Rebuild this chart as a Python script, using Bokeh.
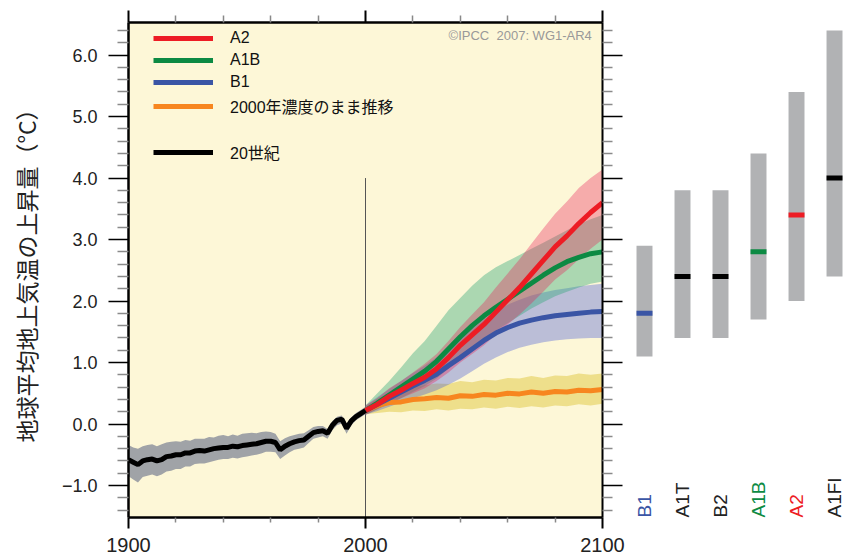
import math
from bokeh.plotting import figure
from bokeh.layouts import row
from bokeh.models import (Range1d, FixedTicker, LinearAxis, Legend, LegendItem, Label)
from bokeh.core.properties import value
from bokeh.embed import file_html
from bokeh.resources import INLINE

# ---------------- data ----------------
years_20c = [1900, 1902, 1904, 1906, 1908, 1910, 1912, 1914, 1916, 1918, 1920, 1922, 1924, 1926,
             1928, 1930, 1932, 1934, 1936, 1938, 1940, 1942, 1944, 1946, 1948, 1950, 1952, 1954,
             1956, 1958, 1960, 1962, 1964, 1966, 1968, 1970, 1972, 1974, 1976, 1978, 1980, 1982,
             1984, 1986, 1988, 1990, 1992, 1994, 1996, 1998, 2000]
mean_20c = [-0.58, -0.62, -0.66, -0.60, -0.58, -0.57, -0.60, -0.58, -0.53, -0.52, -0.50, -0.50, -0.47, -0.47,
            -0.44, -0.43, -0.44, -0.42, -0.40, -0.39, -0.38, -0.38, -0.36, -0.37, -0.35, -0.34, -0.33, -0.32,
            -0.30, -0.28, -0.28, -0.30, -0.42, -0.36, -0.32, -0.29, -0.27, -0.26, -0.20, -0.14, -0.12, -0.11,
            -0.15, -0.02, 0.06, 0.08, -0.07, 0.05, 0.12, 0.17, 0.22]
upper_20c = [-0.34, -0.38, -0.40, -0.36, -0.34, -0.33, -0.36, -0.33, -0.30, -0.29, -0.28, -0.29, -0.26, -0.27,
             -0.24, -0.24, -0.24, -0.21, -0.22, -0.19, -0.18, -0.20, -0.17, -0.19, -0.16, -0.15, -0.14, -0.15,
             -0.13, -0.12, -0.13, -0.16, -0.28, -0.23, -0.20, -0.18, -0.16, -0.15, -0.10, -0.05, -0.03, -0.03,
             -0.08, 0.05, 0.12, 0.14, 0.01, 0.11, 0.18, 0.23, 0.28]
lower_20c = [-0.85, -0.90, -0.95, -0.86, -0.84, -0.82, -0.85, -0.82, -0.77, -0.76, -0.73, -0.73, -0.69, -0.69,
             -0.65, -0.64, -0.64, -0.62, -0.60, -0.58, -0.57, -0.57, -0.55, -0.56, -0.54, -0.53, -0.51, -0.50,
             -0.48, -0.45, -0.45, -0.46, -0.57, -0.51, -0.46, -0.42, -0.40, -0.38, -0.31, -0.24, -0.22, -0.20,
             -0.24, -0.10, -0.02, 0.01, -0.16, -0.02, 0.06, 0.11, 0.16]

years_proj = [2000, 2005, 2010, 2015, 2020, 2025, 2030, 2035, 2040, 2045, 2050,
              2055, 2060, 2065, 2070, 2075, 2080, 2085, 2090, 2095, 2100]

a2_mean = [0.22, 0.32, 0.45, 0.55, 0.66, 0.76, 0.90, 1.08, 1.28, 1.45, 1.62,
           1.82, 2.02, 2.22, 2.44, 2.66, 2.88, 3.06, 3.26, 3.44, 3.60]
a2_upper = [0.30, 0.42, 0.58, 0.70, 0.84, 0.98, 1.14, 1.35, 1.58, 1.78, 1.98,
            2.22, 2.45, 2.68, 2.93, 3.18, 3.42, 3.62, 3.84, 4.00, 4.14]
a2_lower = [0.15, 0.24, 0.34, 0.42, 0.50, 0.58, 0.70, 0.84, 1.00, 1.14, 1.28,
            1.45, 1.62, 1.78, 1.96, 2.15, 2.35, 2.50, 2.68, 2.85, 3.00]

a1b_mean = [0.22, 0.34, 0.47, 0.60, 0.73, 0.86, 1.02, 1.22, 1.42, 1.60, 1.76,
            1.90, 2.03, 2.16, 2.29, 2.42, 2.54, 2.64, 2.71, 2.77, 2.80]
a1b_upper = [0.30, 0.50, 0.70, 0.92, 1.15, 1.35, 1.60, 1.85, 2.05, 2.25, 2.42,
             2.55, 2.65, 2.75, 2.85, 2.95, 3.05, 3.15, 3.25, 3.33, 3.40]
a1b_lower = [0.15, 0.24, 0.33, 0.42, 0.52, 0.62, 0.74, 0.90, 1.06, 1.22, 1.38,
             1.52, 1.64, 1.76, 1.88, 1.98, 2.08, 2.15, 2.22, 2.28, 2.32]

b1_mean = [0.22, 0.32, 0.42, 0.52, 0.62, 0.71, 0.81, 0.95, 1.08, 1.22, 1.36,
           1.48, 1.57, 1.64, 1.69, 1.73, 1.76, 1.78, 1.80, 1.82, 1.83]
b1_upper = [0.30, 0.44, 0.57, 0.70, 0.83, 0.95, 1.08, 1.22, 1.38, 1.54, 1.70,
            1.83, 1.94, 2.02, 2.09, 2.14, 2.18, 2.21, 2.24, 2.26, 2.28]
b1_lower = [0.15, 0.21, 0.28, 0.35, 0.42, 0.48, 0.55, 0.64, 0.74, 0.86, 0.98,
            1.08, 1.17, 1.24, 1.29, 1.33, 1.36, 1.38, 1.39, 1.40, 1.40]

commit_mean = [0.22, 0.30, 0.35, 0.36, 0.40, 0.41, 0.43, 0.42, 0.46, 0.45, 0.48,
               0.47, 0.50, 0.49, 0.52, 0.50, 0.53, 0.52, 0.55, 0.54, 0.56]
commit_upper = [0.28, 0.42, 0.50, 0.55, 0.60, 0.63, 0.66, 0.65, 0.70, 0.68, 0.72,
                0.71, 0.75, 0.74, 0.78, 0.75, 0.79, 0.78, 0.82, 0.80, 0.82]
commit_lower = [0.16, 0.18, 0.20, 0.19, 0.22, 0.21, 0.24, 0.22, 0.25, 0.24, 0.27,
                0.25, 0.28, 0.26, 0.29, 0.27, 0.30, 0.29, 0.32, 0.30, 0.33]

scenarios = ["B1", "A1T", "B2", "A1B", "A2", "A1FI"]
scen_low = [1.1, 1.4, 1.4, 1.7, 2.0, 2.4]
scen_high = [2.9, 3.8, 3.8, 4.4, 5.4, 6.4]
scen_best = [1.8, 2.4, 2.4, 2.8, 3.4, 4.0]

ytick_values = [-1, 0, 1, 2, 3, 4, 5, 6]
ytick_labels = ["\u22121.0", "0.0", "1.0", "2.0", "3.0", "4.0", "5.0", "6.0"]
yminor_values = [-1.4, -1.2, -0.8, -0.6, -0.4, -0.2, 0.2, 0.4, 0.6, 0.8, 1.2, 1.4, 1.6, 1.8,
                 2.2, 2.4, 2.6, 2.8, 3.2, 3.4, 3.6, 3.8, 4.2, 4.4, 4.6, 4.8, 5.2, 5.4, 5.6, 5.8,
                 6.2, 6.4]
xtick_values = [1900, 2000, 2100]
xminor_values = [1920, 1940, 1960, 1980, 2020, 2040, 2060, 2080]

legend_labels = ["A2", "A1B", "B1", "2000年濃度のまま推移", "20世紀"]
y_label = "地球平均地上気温の上昇量（°C）"
credit = "©IPCC\u00a0 2007: WG1-AR4"
divider_year = 2000
divider_top = 4.0

# ---------------- styles ----------------
BG = "#fdf7d7"
RED = "#ed1c24"
GREEN = "#0c8a43"
BLUE = "#3a55a5"
ORANGE = "#f7861f"
BLACK = "#000000"
LATIN = "Liberation Sans"
MIXED = "Liberation Sans, Noto Sans CJK JP"

y_lo, y_hi = -1.52, 6.53
FIG_H = 560
BORDER_TOP = 22
BORDER_BOTTOM = 43

p = figure(width=628, height=FIG_H, x_range=Range1d(1900, 2100), y_range=Range1d(y_lo, y_hi),
           output_backend="svg", toolbar_location=None,
           min_border_left=128, min_border_right=26, min_border_top=BORDER_TOP,
           min_border_bottom=BORDER_BOTTOM,
           background_fill_color=BG, border_fill_color="white", outline_line_color=None)
p.xgrid.visible = False
p.ygrid.visible = False

xt = FixedTicker(ticks=xtick_values, minor_ticks=xminor_values)
yt = FixedTicker(ticks=ytick_values, minor_ticks=yminor_values)

# bottom axis
xa = p.xaxis[0]
xa.ticker = xt
xa.axis_line_width = 2.5
xa.major_tick_out = 11
xa.major_tick_in = 0
xa.major_tick_line_width = 2
xa.minor_tick_out = 5
xa.minor_tick_in = 0
xa.minor_tick_line_color = "#888888"
xa.minor_tick_line_width = 1.5
xa.major_label_text_font = LATIN
xa.major_label_text_font_size = "20px"
xa.major_label_text_color = "#222222"
xa.major_label_standoff = 9

# left axis
ya = p.yaxis[0]
ya.ticker = yt
ya.axis_line_width = 2.5
ya.major_tick_out = 20
ya.major_tick_in = 0
ya.major_tick_line_width = 1.5
ya.minor_tick_out = 11
ya.minor_tick_in = 0
ya.minor_tick_line_color = "#8a8a8a"
ya.minor_tick_line_width = 1.5
ya.major_label_overrides = {v: s for v, s in zip(ytick_values, ytick_labels)}
ya.major_label_text_font = LATIN
ya.major_label_text_font_size = "18px"
ya.major_label_text_color = "#222222"
ya.major_label_standoff = 11
ya.axis_label = y_label
ya.axis_label_text_font = "Noto Sans CJK JP"
ya.axis_label_text_font_style = "normal"
ya.axis_label_text_font_size = "23px"
ya.axis_label_text_color = "#222222"
ya.axis_label_standoff = 16

# top axis (ticks only)
ta = LinearAxis(ticker=xt, axis_line_width=2.5, major_tick_out=12, major_tick_in=0,
                major_tick_line_width=2, minor_tick_out=7, minor_tick_in=0,
                minor_tick_line_color="#888888", minor_tick_line_width=1.5,
                major_label_text_font_size="1px", major_label_text_color=None,
                major_label_standoff=0)
p.add_layout(ta, "above")

# right axis (ticks only)
ra = LinearAxis(ticker=yt, axis_line_width=2, major_tick_out=20, major_tick_in=0,
                major_tick_line_width=1.5, minor_tick_out=10, minor_tick_in=0,
                minor_tick_line_color="#8a8a8a", minor_tick_line_width=1.5,
                major_label_text_font_size="1px", major_label_text_color=None,
                major_label_standoff=0)
p.add_layout(ra, "right")

# divider at year 2000
p.segment(x0=[divider_year], y0=[y_lo], x1=[divider_year], y1=[divider_top],
          line_color="#555555", line_width=1)

# uncertainty bands
p.varea(x=years_20c, y1=lower_20c, y2=upper_20c, fill_color="#a0a3a7", fill_alpha=1.0)
p.varea(x=years_proj, y1=commit_lower, y2=commit_upper, fill_color="#e0c840", fill_alpha=0.5)
p.varea(x=years_proj, y1=b1_lower, y2=b1_upper, fill_color="#5060d8", fill_alpha=0.38)
p.varea(x=years_proj, y1=a1b_lower, y2=a1b_upper, fill_color="#30a878", fill_alpha=0.4)
p.varea(x=years_proj, y1=a2_lower, y2=a2_upper, fill_color="#e8205a", fill_alpha=0.35)

# mean lines
r_commit = p.line(years_proj, commit_mean, line_color=ORANGE, line_width=5)
r_b1 = p.line(years_proj, b1_mean, line_color=BLUE, line_width=5)
r_a1b = p.line(years_proj, a1b_mean, line_color=GREEN, line_width=5)
r_a2 = p.line(years_proj, a2_mean, line_color=RED, line_width=5)
r_20c = p.line(years_20c, mean_20c, line_color=BLACK, line_width=5)

leg_common = dict(orientation="vertical", glyph_width=60, glyph_height=20, label_height=20,
                  spacing=2, padding=0, margin=0, background_fill_alpha=0,
                  border_line_color=None, label_standoff=17,
                  label_text_font=MIXED, label_text_font_size="16px",
                  label_text_color="#111111")
legend1 = Legend(items=[LegendItem(label=legend_labels[0], renderers=[r_a2]),
                        LegendItem(label=legend_labels[1], renderers=[r_a1b]),
                        LegendItem(label=legend_labels[2], renderers=[r_b1]),
                        LegendItem(label=legend_labels[3], renderers=[r_commit])],
                 location=(25, 399), **leg_common)
legend2 = Legend(items=[LegendItem(label=legend_labels[4], renderers=[r_20c])],
                 location=(25, 353), **leg_common)
p.add_layout(legend1)
p.add_layout(legend2)

p.add_layout(Label(x=2095.5, y=6.32, text=credit, text_align="right", text_baseline="middle",
                   text_font=LATIN, text_font_size="13px", text_color="#999999"))

# ---------------- right panel: scenario ranges ----------------
p2 = figure(width=217, height=FIG_H, x_range=Range1d(-0.421, 5.289), y_range=p.y_range,
            output_backend="svg", toolbar_location=None, x_axis_location=None, y_axis_location=None,
            min_border_left=0, min_border_right=0, min_border_top=BORDER_TOP,
            min_border_bottom=BORDER_BOTTOM,
            background_fill_color="white", border_fill_color="white", outline_line_color=None)
p2.grid.visible = False

xpos = list(range(len(scenarios)))
best_colors = [BLUE, BLACK, BLACK, GREEN, RED, BLACK]
label_colors = [BLUE, "#222222", "#222222", GREEN, RED, "#222222"]

p2.vbar(x=xpos, bottom=scen_low, top=scen_high, width=0.42, fill_color="#b1b2b4", line_color=None)
p2.rect(x=xpos, y=scen_best, width=0.42, height=5, height_units="screen",
        fill_color=best_colors, line_color=None)
p2.text(x=xpos, y=[y_lo] * len(scenarios), text=scenarios, angle=math.pi / 2,
        text_align="left", text_baseline="middle", text_color=label_colors,
        text_font=value(LATIN), text_font_size="19px")

layout = row(p, p2, spacing=0)
open("out.html", "w").write(file_html(layout, INLINE))
